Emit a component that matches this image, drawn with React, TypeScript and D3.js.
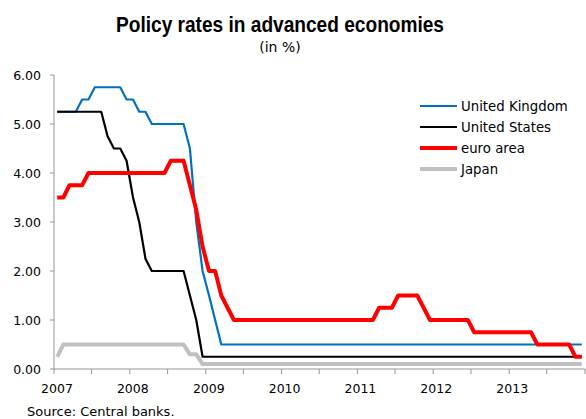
import React from "react";
import * as d3 from "d3";

const startYear = 2007;
const endYear = 2014;

// Monthly policy rates, Jan 2007 .. Dec 2013
const ukRates = [
  5.25, 5.25, 5.25, 5.25, 5.5, 5.5, 5.75, 5.75, 5.75, 5.75, 5.75, 5.5,
  5.5, 5.25, 5.25, 5.0, 5.0, 5.0, 5.0, 5.0, 5.0, 4.5, 3.0, 2.0,
  1.5, 1.0, 0.5, 0.5, 0.5, 0.5, 0.5, 0.5, 0.5, 0.5, 0.5, 0.5,
  0.5, 0.5, 0.5, 0.5, 0.5, 0.5, 0.5, 0.5, 0.5, 0.5, 0.5, 0.5,
  0.5, 0.5, 0.5, 0.5, 0.5, 0.5, 0.5, 0.5, 0.5, 0.5, 0.5, 0.5,
  0.5, 0.5, 0.5, 0.5, 0.5, 0.5, 0.5, 0.5, 0.5, 0.5, 0.5, 0.5,
  0.5, 0.5, 0.5, 0.5, 0.5, 0.5, 0.5, 0.5, 0.5, 0.5, 0.5, 0.5,
];

const usRates = [
  5.25, 5.25, 5.25, 5.25, 5.25, 5.25, 5.25, 5.25, 4.75, 4.5, 4.5, 4.25,
  3.5, 3.0, 2.25, 2.0, 2.0, 2.0, 2.0, 2.0, 2.0, 1.5, 1.0, 0.25,
  0.25, 0.25, 0.25, 0.25, 0.25, 0.25, 0.25, 0.25, 0.25, 0.25, 0.25, 0.25,
  0.25, 0.25, 0.25, 0.25, 0.25, 0.25, 0.25, 0.25, 0.25, 0.25, 0.25, 0.25,
  0.25, 0.25, 0.25, 0.25, 0.25, 0.25, 0.25, 0.25, 0.25, 0.25, 0.25, 0.25,
  0.25, 0.25, 0.25, 0.25, 0.25, 0.25, 0.25, 0.25, 0.25, 0.25, 0.25, 0.25,
  0.25, 0.25, 0.25, 0.25, 0.25, 0.25, 0.25, 0.25, 0.25, 0.25, 0.25, 0.25,
];

const euroRates = [
  3.5, 3.5, 3.75, 3.75, 3.75, 4.0, 4.0, 4.0, 4.0, 4.0, 4.0, 4.0,
  4.0, 4.0, 4.0, 4.0, 4.0, 4.0, 4.25, 4.25, 4.25, 3.75, 3.25, 2.5,
  2.0, 2.0, 1.5, 1.25, 1.0, 1.0, 1.0, 1.0, 1.0, 1.0, 1.0, 1.0,
  1.0, 1.0, 1.0, 1.0, 1.0, 1.0, 1.0, 1.0, 1.0, 1.0, 1.0, 1.0,
  1.0, 1.0, 1.0, 1.25, 1.25, 1.25, 1.5, 1.5, 1.5, 1.5, 1.25, 1.0,
  1.0, 1.0, 1.0, 1.0, 1.0, 1.0, 0.75, 0.75, 0.75, 0.75, 0.75, 0.75,
  0.75, 0.75, 0.75, 0.75, 0.5, 0.5, 0.5, 0.5, 0.5, 0.5, 0.25, 0.25,
];

const japanRates = [
  0.25, 0.5, 0.5, 0.5, 0.5, 0.5, 0.5, 0.5, 0.5, 0.5, 0.5, 0.5,
  0.5, 0.5, 0.5, 0.5, 0.5, 0.5, 0.5, 0.5, 0.5, 0.3, 0.3, 0.1,
  0.1, 0.1, 0.1, 0.1, 0.1, 0.1, 0.1, 0.1, 0.1, 0.1, 0.1, 0.1,
  0.1, 0.1, 0.1, 0.1, 0.1, 0.1, 0.1, 0.1, 0.1, 0.1, 0.1, 0.1,
  0.1, 0.1, 0.1, 0.1, 0.1, 0.1, 0.1, 0.1, 0.1, 0.1, 0.1, 0.1,
  0.1, 0.1, 0.1, 0.1, 0.1, 0.1, 0.1, 0.1, 0.1, 0.1, 0.1, 0.1,
  0.1, 0.1, 0.1, 0.1, 0.1, 0.1, 0.1, 0.1, 0.1, 0.1, 0.1, 0.1,
];

const seriesNames = ["United Kingdom", "United States", "euro area", "Japan"];
const seriesColors = ["#0070C0", "#000000", "#FF0000", "#C0C0C0"];
const seriesWidths = [2.2, 2.2, 4, 4];
const seriesValues = [ukRates, usRates, euroRates, japanRates];

const yTicks = [0, 1, 2, 3, 4, 5, 6];

const FONT = "'DejaVu Sans', Verdana, sans-serif";

export default function App() {
  const width = 586;
  const height = 419;
  const left = 54;
  const right = 585;
  const top = 75;
  const bottom = 369;

  const x = d3
    .scaleTime()
    .domain([new Date(startYear, 0, 1), new Date(endYear, 0, 1)])
    .range([left, right]);
  const y = d3.scaleLinear().domain([0, 6]).range([bottom, top]);

  const midMonth = (i: number) => {
    const a = new Date(startYear, i, 1).getTime();
    const b = new Date(startYear, i + 1, 1).getTime();
    return new Date((a + b) / 2);
  };

  const line = d3
    .line<number>()
    .x((_, i) => x(midMonth(i)))
    .y((v) => y(v))
    .curve(d3.curveLinear);

  const xTicks = x.ticks(d3.timeMonth.every(6) as any);
  const yearTicks = d3.range(startYear, endYear + 1).filter((yr) => yr < endYear);

  const axisColor = "#969696";

  return (
    <svg
      width={width}
      height={height}
      style={{ position: "absolute", left: 0, top: 0, background: "#fff" }}
    >
      <text
        x={280}
        y={32}
        textAnchor="middle"
        fontFamily="'Liberation Sans', Arial, sans-serif"
        fontWeight="bold"
        fontSize={21.5}
        textLength={328}
        lengthAdjust="spacingAndGlyphs"
        fill="#000"
      >
        Policy rates in advanced economies
      </text>
      <text
        x={280}
        y={51.5}
        textAnchor="middle"
        fontFamily={FONT}
        fontSize={14}
        fill="#000"
      >
        (in %)
      </text>

      {/* y axis */}
      <line x1={left} x2={left} y1={top} y2={bottom} stroke={axisColor} strokeWidth={1} />
      {yTicks.map((t) => (
        <g key={t}>
          <line x1={left - 4} x2={left} y1={y(t)} y2={y(t)} stroke={axisColor} strokeWidth={1} />
          <text
            x={41}
            y={y(t) + 4.5}
            textAnchor="end"
            fontFamily={FONT}
            fontSize={12.5}
            fill="#000"
          >
            {t.toFixed(2)}
          </text>
        </g>
      ))}

      {/* x axis */}
      <line x1={left} x2={right} y1={bottom} y2={bottom} stroke={axisColor} strokeWidth={1} />
      {xTicks.map((d, i) => (
        <line
          key={i}
          x1={x(d)}
          x2={x(d)}
          y1={bottom}
          y2={bottom + 5}
          stroke={axisColor}
          strokeWidth={1}
        />
      ))}
      {yearTicks.map((yr) => (
        <text
          key={yr}
          x={x(new Date(yr, 0, 1)) + 3}
          y={393}
          textAnchor="middle"
          fontFamily={FONT}
          fontSize={12.5}
          fill="#000"
        >
          {yr}
        </text>
      ))}

      {/* series */}
      {seriesValues.map((vals, k) => (
        <path
          key={seriesNames[k]}
          d={line(vals) || ""}
          fill="none"
          stroke={seriesColors[k]}
          strokeWidth={seriesWidths[k]}
          strokeLinejoin="round"
          strokeLinecap="butt"
        />
      ))}

      {/* legend */}
      {seriesNames.map((name, k) => {
        const ly = 106 + k * 21;
        return (
          <g key={name}>
            <line
              x1={420}
              x2={457}
              y1={ly}
              y2={ly}
              stroke={seriesColors[k]}
              strokeWidth={seriesWidths[k]}
            />
            <text
              x={461}
              y={ly + 5}
              fontFamily={FONT}
              fontSize={13.3}
              fill="#000"
            >
              {name}
            </text>
          </g>
        );
      })}

      <text x={27} y={415.5} fontFamily={FONT} fontSize={13} fill="#000">
        Source: Central banks.
      </text>
    </svg>
  );
}
